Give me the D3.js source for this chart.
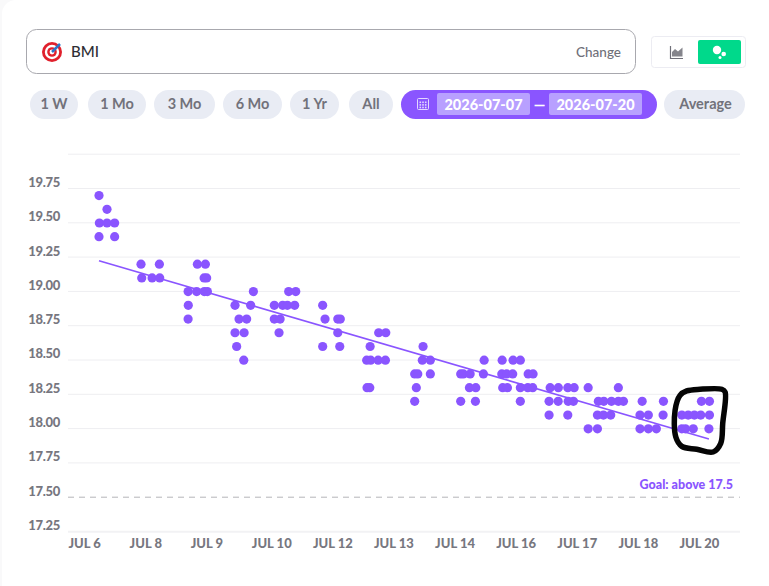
<!DOCTYPE html>
<html>
<head>
    <meta charset="utf-8">
    <title>BMI</title>
    <script src="https://d3js.org/d3.v7.min.js"></script>
    <style>
        html, body { margin: 0; padding: 0; background: #f9f9fa; }
        svg { display: block; }
        text { font-family: Lato, "Open Sans", sans-serif; }
        .y-axis text { font-size: 13px; font-weight: 900; fill: #77777f; letter-spacing: -0.3px; }
        .x-axis text { font-size: 13px; font-weight: 900; fill: #77777f; }
        .pill-label { font-size: 14.5px; font-weight: 700; fill: #72727b; text-anchor: middle; }
        .date-label { font-size: 14.5px; font-weight: 900; fill: #fff; text-anchor: middle; }
    </style>
</head>
<body>
<div id="chart"></div>
<script>
    // readings grouped by BMI level, times are hours after Jul 6 00:00
    const bmiLevels = [19.7, 19.6, 19.5, 19.4, 19.2, 19.1, 19.0, 18.9, 18.8, 18.7, 18.6, 18.5, 18.4, 18.3, 18.2, 18.1, 18.0];
    const readingHours = [
        [16.5],
        [20.9],
        [16.7, 20.9, 25.1],
        [16.5, 25.1],
        [39.6, 49.7, 70.6, 75.0],
        [40.0, 45.7, 49.9, 74.3, 75.7],
        [65.5, 70.2, 74.4, 76.1, 101.4, 120.8, 124.7],
        [65.6, 91.3, 99.9, 112.9, 117.5, 120.1, 124.1, 139.5],
        [65.5, 93.5, 97.7, 112.9, 116.1, 140.8, 147.8, 149.2],
        [91.3, 96.3, 115.5, 147.8, 170.3, 174.2],
        [92.2, 139.5, 148.9, 165.6, 194.7],
        [96.1, 163.7, 165.9, 170, 174, 194.3, 198.7, 228.3, 238.2, 244.2, 248.2],
        [190.1, 191.8, 198.7, 215.4, 216.9, 220.6, 227.9, 238, 240.7, 244, 252.5, 255.2],
        [163.9, 165.4, 191, 220.2, 223.7, 238.5, 241.1, 248.2, 252.3, 255, 264.6, 269.1, 274.3, 277.8, 285.5, 302.1],
        [190.1, 215.4, 223.5, 248.2, 264, 269, 274.5, 277.4, 291.1, 294.1, 298.3, 302.1, 304.9, 315.2, 326.9, 347.8, 352.2],
        [264, 274.3, 290.6, 293.9, 297.9, 314, 318.6, 326.7, 337, 340.5, 343.9, 347.4, 352.2],
        [285.5, 290.6, 314, 318.6, 323, 337, 339, 343.3, 351.9]
    ];

    const trendHours = [16.5, 351.9];
    const trendBmi = [19.225, 17.925];

    const goalBmi = 17.5;
    const yTicks = [20, 19.75, 19.5, 19.25, 19, 18.75, 18.5, 18.25, 18, 17.75, 17.5, 17.25];
    const xTickHours = [0, 33.6, 67.2, 100.8, 134.4, 168, 201.6, 235.2, 268.8, 302.4, 336];
    const xTickLabels = ['JUL 6', 'JUL 8', 'JUL 9', 'JUL 10', 'JUL 12', 'JUL 13', 'JUL 14', 'JUL 16', 'JUL 17', 'JUL 18', 'JUL 20'];

    // the hand drawn loop round the last day
    const loopHours = [339.7, 347, 359, 360.8, 359.5, 358.4, 354.2, 345.2, 337, 333.7, 333.3, 336];
    const loopBmi = [18.276, 18.288, 18.288, 18.268, 18.04, 17.894, 17.831, 17.851, 17.872, 17.94, 18.135, 18.244];

    const pillLabels = ['1 W', '1 Mo', '3 Mo', '6 Mo', '1 Yr', 'All', 'Average'];
    const pillLefts = [30, 88, 154, 223, 290, 349, 664];
    const pillRights = [78, 146, 215, 282, 339, 393, 745];

    const purple = '#8a55ff';
    const svg = d3.select('#chart').append('svg').attr('width', 769).attr('height', 586);

    // white card
    svg.append('rect').attr('x', 2).attr('y', 0).attr('width', 800).attr('height', 640).attr('rx', 14).attr('fill', '#fff');

    // header: metric box
    svg.append('rect').attr('x', 26.5).attr('y', 29.5).attr('width', 609).attr('height', 44).attr('rx', 10)
        .attr('fill', '#fff').attr('stroke', '#a8a8ae');
    const target = svg.append('g').attr('transform', 'translate(52,52)');
    [[10, '#e0202c'], [7.2, '#fff'], [4.8, '#e0202c'], [2.4, '#fff']].forEach(d => {
        target.append('circle').attr('r', d[0]).attr('fill', d[1]);
    });
    target.append('line').attr('x1', 0).attr('y1', 0).attr('x2', 8).attr('y2', -8)
        .attr('stroke', '#2f74c8').attr('stroke-width', 2.5);
    svg.append('text').attr('x', 71).attr('y', 57).attr('font-size', 15).attr('font-weight', 500).attr('fill', '#2e2e34').text('BMI');
    svg.append('text').attr('x', 621).attr('y', 57).attr('text-anchor', 'end').attr('font-size', 13.5).attr('font-weight', 500).attr('fill', '#6f6f78').text('Change');

    // header: chart type toggle
    svg.append('rect').attr('x', 651.5).attr('y', 36.5).attr('width', 94).attr('height', 31).attr('rx', 3)
        .attr('fill', '#fff').attr('stroke', '#ececf2');
    const areaIcon = svg.append('g').attr('transform', 'translate(670,46)').attr('fill', '#85858c');
    areaIcon.append('path').attr('d', 'M0.5 0V12.5H13').attr('fill', 'none').attr('stroke', '#6f6f78').attr('stroke-width', 1.2);
    areaIcon.append('path').attr('d', 'M2 10.5V6L5 3L8 5.5L12.5 1.5V10.5Z');
    svg.append('rect').attr('x', 698).attr('y', 40).attr('width', 43).attr('height', 24).attr('rx', 2).attr('fill', '#00d98b');
    svg.append('circle').attr('cx', 717).attr('cy', 50).attr('r', 4.2).attr('fill', '#fff');
    svg.append('circle').attr('cx', 723.7).attr('cy', 54).attr('r', 2.3).attr('fill', '#fff');
    svg.append('circle').attr('cx', 720).attr('cy', 57.5).attr('r', 1.5).attr('fill', '#fff');

    // header: range pills
    pillLabels.forEach((label, i) => {
        svg.append('rect').attr('x', pillLefts[i]).attr('y', 90).attr('width', pillRights[i] - pillLefts[i]).attr('height', 29)
            .attr('rx', 14.5).attr('fill', '#e9ecf4');
        svg.append('text').attr('class', 'pill-label').attr('x', (pillLefts[i] + pillRights[i]) / 2 + (label === 'Average' ? 1 : 0)).attr('y', 109).text(label);
    });

    // header: date range
    svg.append('rect').attr('x', 401).attr('y', 90).attr('width', 256).attr('height', 29).attr('rx', 14.5).attr('fill', purple);
    const cal = svg.append('g').attr('transform', 'translate(417.5,98.5)');
    cal.append('rect').attr('width', 11).attr('height', 11).attr('rx', 1).attr('fill', 'none').attr('stroke', '#e3d8ff');
    d3.range(3).forEach(r => d3.range(3).forEach(c => {
        cal.append('rect').attr('x', 2 + c * 2.7).attr('y', 3 + r * 2.6).attr('width', 1.6).attr('height', 1.6).attr('fill', '#e3d8ff');
    }));
    [[437, '2026-07-07'], [549, '2026-07-20']].forEach(d => {
        svg.append('rect').attr('x', d[0]).attr('y', 93).attr('width', 93).attr('height', 22).attr('rx', 2).attr('fill', '#b8a0ff');
        svg.append('text').attr('class', 'date-label').attr('x', d[0] + 46.5).attr('y', 109.5).text(d[1]);
    });
    svg.append('text').attr('class', 'date-label').attr('x', 539.5).attr('y', 110).text('—');

    // scales
    const x = d3.scaleLinear().domain([0, 336]).range([69, 680]);
    const y = d3.scaleLinear().domain([17.25, 20]).range([531.7, 154.4]);

    // y axis and grid
    const yAxis = svg.append('g').attr('class', 'y-axis').attr('transform', 'translate(68,-0.7)')
        .call(d3.axisLeft(y).tickValues(yTicks).tickSize(-672).tickPadding(8)
            .tickFormat(d => d === 20 ? '' : d3.format('.2f')(d)));
    yAxis.select('.domain').remove();
    yAxis.selectAll('line').attr('stroke', '#eeeef1').attr('stroke-width', 1);
    yAxis.selectAll('text').attr('dy', '-0.12em');
    yAxis.selectAll('.tick').filter(d => d === goalBmi).select('line')
        .attr('stroke', '#b4b4b8').attr('stroke-dasharray', '6 5');

    // x axis
    const xAxis = svg.append('g').attr('class', 'x-axis').attr('transform', `translate(-1,${y(17.25)})`)
        .call(d3.axisBottom(x).tickValues(xTickHours).tickSize(0).tickPadding(7)
            .tickFormat((d, i) => xTickLabels[i]));
    xAxis.select('.domain').attr('d', 'M69,0H741').attr('stroke', '#f2f2f4').attr('stroke-width', 2);
    xAxis.selectAll('text').attr('text-anchor', 'start');

    // readings
    const readings = bmiLevels.flatMap((level, i) => readingHours[i].map(h => ({ h: h, bmi: level })));
    svg.append('g').selectAll('circle')
        .data(readings)
        .enter()
        .append('circle')
        .attr('cx', d => x(d.h))
        .attr('cy', d => y(d.bmi))
        .attr('r', 4.6)
        .attr('fill', purple);

    // trend
    svg.append('line')
        .attr('x1', x(trendHours[0])).attr('y1', y(trendBmi[0]))
        .attr('x2', x(trendHours[1])).attr('y2', y(trendBmi[1]))
        .attr('stroke', purple).attr('stroke-width', 1.6);

    svg.append('text').attr('x', 733).attr('y', y(goalBmi) - 8).attr('text-anchor', 'end')
        .attr('font-size', 12.5).attr('font-weight', 900).attr('fill', purple).text('Goal: above 17.5');

    // annotation
    const loop = d3.line().x(d => x(d[0])).y(d => y(d[1])).curve(d3.curveCatmullRomClosed.alpha(0.5));
    svg.append('path')
        .attr('d', loop(loopHours.map((h, i) => [h, loopBmi[i]])))
        .attr('fill', 'none').attr('stroke', '#050505').attr('stroke-width', 5.5).attr('stroke-linejoin', 'round');
</script>
</body>
</html>
